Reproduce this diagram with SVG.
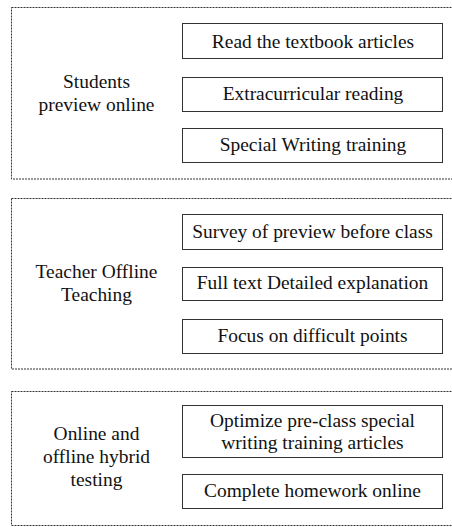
<svg xmlns="http://www.w3.org/2000/svg" width="452" height="527" viewBox="0 0 452 527" font-family="'Liberation Serif', 'DejaVu Serif', serif">
<style>
.frame{fill:none;stroke:#333;stroke-width:1;stroke-dasharray:2 1}
.box{fill:#fff;stroke:#333;stroke-width:1}
text{font-family:'Liberation Serif','DejaVu Serif',serif;font-size:18px;fill:#111;text-anchor:middle}
</style>
<rect width="452" height="527" fill="#fff"/>
<g id="section1">
<rect class="frame" x="11.5" y="7.5" width="450" height="171.5"/>
<text transform="translate(96.5 87.5) scale(1.08 1)">Students</text>
<text transform="translate(96.5 110.5) scale(1.08 1)">preview online</text>
</g>
<g id="node-read">
<rect class="box" x="182.5" y="23.5" width="260" height="35"/>
<text transform="translate(313 47.5) scale(1.08 1)">Read the textbook articles</text>
</g>
<g id="node-extra">
<rect class="box" x="182.5" y="77.5" width="260" height="34"/>
<text transform="translate(313 99.5) scale(1.08 1)">Extracurricular reading</text>
</g>
<g id="node-special">
<rect class="box" x="182.5" y="128.5" width="260" height="34"/>
<text transform="translate(313 151) scale(1.08 1)">Special Writing training</text>
</g>
<g id="section2">
<rect class="frame" x="11.5" y="198.5" width="450" height="170.5"/>
<text transform="translate(96.5 277.5) scale(1.08 1)">Teacher Offline</text>
<text transform="translate(96.5 300.5) scale(1.08 1)">Teaching</text>
</g>
<g id="node-survey">
<rect class="box" x="182.5" y="214.5" width="260" height="35"/>
<text transform="translate(312.5 237.5) scale(1.08 1)">Survey of preview before class</text>
</g>
<g id="node-fulltext">
<rect class="box" x="182.5" y="267.5" width="260" height="33"/>
<text transform="translate(312.5 289) scale(1.08 1)">Full text Detailed explanation</text>
</g>
<g id="node-focus">
<rect class="box" x="182.5" y="319.5" width="260" height="34"/>
<text transform="translate(312.5 341.5) scale(1.08 1)">Focus on difficult points</text>
</g>
<g id="section3">
<rect class="frame" x="11.5" y="391.5" width="450" height="134"/>
<text transform="translate(96.5 440) scale(1.08 1)">Online and</text>
<text transform="translate(96.5 463) scale(1.08 1)">offline hybrid</text>
<text transform="translate(96.5 486) scale(1.08 1)">testing</text>
</g>
<g id="node-optimize">
<rect class="box" x="182.5" y="405.5" width="260" height="52"/>
<text transform="translate(312.5 426.5) scale(1.08 1)">Optimize pre-class special</text>
<text transform="translate(312.5 448.5) scale(1.08 1)">writing training articles</text>
</g>
<g id="node-homework">
<rect class="box" x="182.5" y="474.5" width="260" height="34"/>
<text transform="translate(312.5 496.5) scale(1.08 1)">Complete homework online</text>
</g>
</svg>
